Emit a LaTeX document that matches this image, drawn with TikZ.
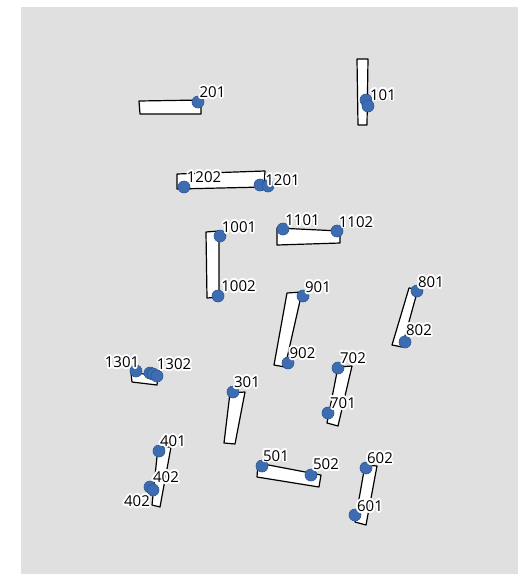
\documentclass[tikz,border=0pt]{standalone}
\usepackage{fontspec}
\setsansfont{Open Sans}
\usepackage{tikz}
\usepackage{contour}
\contourlength{1.8pt}
\definecolor{floorgray}{HTML}{E0E0E0}
\definecolor{seatblue}{HTML}{3D6DB0}
\definecolor{seatedge}{HTML}{2C5896}
\tikzset{
  tablebox/.style={
    draw=black, fill=white, line width=1.2pt, line join=round
  },
  seatdot/.style={
    circle, fill=seatblue, draw=seatedge, line width=0.6pt,
    minimum size=12pt, inner sep=0pt
  },
  seatlabel/.style={
    anchor=base, yshift=-5.5pt, inner sep=0pt,
    font=\fontsize{15}{18}\selectfont\sffamily
  },
}
\newcommand{\halo}[1]{\contour{white}{#1}}

\begin{document}
\begin{tikzpicture}[x=1pt,y=-1pt]
  \useasboundingbox (0,0) rectangle (518,574);
  % Floor
  \fill[floorgray] (21,7) rectangle (518,574);

  % Tables
  \draw[tablebox] (139,101) -- (201,100) -- (201,114) -- (140,114) -- cycle;
  \draw[tablebox] (357,59) -- (368,59) -- (367,125) -- (358,125) -- cycle;
  \draw[tablebox] (177,174) -- (265,171) -- (264,187) -- (177,189) -- cycle;
  \draw[tablebox] (206,232) -- (219,231) -- (219,297) -- (207,298) -- cycle;
  \draw[tablebox] (277,228) -- (340,231) -- (340,243) -- (277,245) -- cycle;
  \draw[tablebox] (287,293) -- (302,292) -- (285,367) -- (274,365) -- cycle;
  \draw[tablebox] (409,288) -- (418,289) -- (402,347) -- (392,345) -- cycle;
  \draw[tablebox] (131,373) -- (158,375) -- (157,385) -- (132,382) -- cycle;
  \draw[tablebox] (230,393) -- (245,392) -- (235,444) -- (224,443) -- cycle;
  \draw[tablebox] (158,447) -- (171,447) -- (160,507) -- (152,505) -- cycle;
  \draw[tablebox] (338,367) -- (352,366) -- (338,426) -- (327,423) -- cycle;
  \draw[tablebox] (258,463) -- (321,475) -- (319,487) -- (257,477) -- cycle;
  \draw[tablebox] (365,465) -- (377,466) -- (366,525) -- (355,522) -- cycle;

  % Seats
  \node[seatdot] (s201) at (198,102) {};
  \node[seatdot] (s101a) at (366,100) {};
  \node[seatdot] (s101b) at (368,106) {};
  \node[seatdot] (s1202) at (184,187) {};
  \node[seatdot] (s1201a) at (260,185) {};
  \node[seatdot] (s1201b) at (268,186) {};
  \node[seatdot] (s1001) at (220,236) {};
  \node[seatdot] (s1002) at (218,296) {};
  \node[seatdot] (s1101) at (283,229) {};
  \node[seatdot] (s1102) at (337,231) {};
  \node[seatdot] (s901) at (303,296) {};
  \node[seatdot] (s902) at (288,363) {};
  \node[seatdot] (s801) at (417,291) {};
  \node[seatdot] (s802) at (405,342) {};
  \node[seatdot] (s1301) at (136,371) {};
  \node[seatdot] (s1302a) at (150,373) {};
  \node[seatdot] (s1302b) at (153,374) {};
  \node[seatdot] (s1302c) at (157,376) {};
  \node[seatdot] (s301) at (233,392) {};
  \node[seatdot] (s401) at (159,451) {};
  \node[seatdot] (s402a) at (150,487) {};
  \node[seatdot] (s402b) at (153,490) {};
  \node[seatdot] (s702) at (338,368) {};
  \node[seatdot] (s701) at (328,413) {};
  \node[seatdot] (s501) at (262,466) {};
  \node[seatdot] (s502) at (311,475) {};
  \node[seatdot] (s602) at (366,468) {};
  \node[seatdot] (s601) at (355,515) {};

  % Seat numbers
  \node[seatlabel] (l201) at (212.5,92) {\halo{201}};
  \node[seatlabel] (l101) at (383,94.5) {\halo{101}};
  \node[seatlabel] (l1202) at (204,177) {\halo{1202}};
  \node[seatlabel] (l1201) at (282.5,180) {\halo{1201}};
  \node[seatlabel] (l1001) at (239,227) {\halo{1001}};
  \node[seatlabel] (l1002) at (238.5,286) {\halo{1002}};
  \node[seatlabel] (l1101) at (302.5,220) {\halo{1101}};
  \node[seatlabel] (l1102) at (356,221.5) {\halo{1102}};
  \node[seatlabel] (l901) at (318,287) {\halo{901}};
  \node[seatlabel] (l902) at (302.5,353) {\halo{902}};
  \node[seatlabel] (l801) at (431,282) {\halo{801}};
  \node[seatlabel] (l802) at (419,330) {\halo{802}};
  \node[seatlabel] (l1301) at (122,362) {\halo{1301}};
  \node[seatlabel] (l1302) at (174,364) {\halo{1302}};
  \node[seatlabel] (l301) at (247,382) {\halo{301}};
  \node[seatlabel] (l401) at (173,441) {\halo{401}};
  \node[seatlabel] (l402a) at (166,477) {\halo{402}};
  \node[seatlabel] (l402b) at (137,501) {\halo{402}};
  \node[seatlabel] (l702) at (353,358) {\halo{702}};
  \node[seatlabel] (l701) at (343,403) {\halo{701}};
  \node[seatlabel] (l501) at (276,455.5) {\halo{501}};
  \node[seatlabel] (l502) at (326,464) {\halo{502}};
  \node[seatlabel] (l602) at (380,458) {\halo{602}};
  \node[seatlabel] (l601) at (370,506) {\halo{601}};
\end{tikzpicture}
\end{document}
